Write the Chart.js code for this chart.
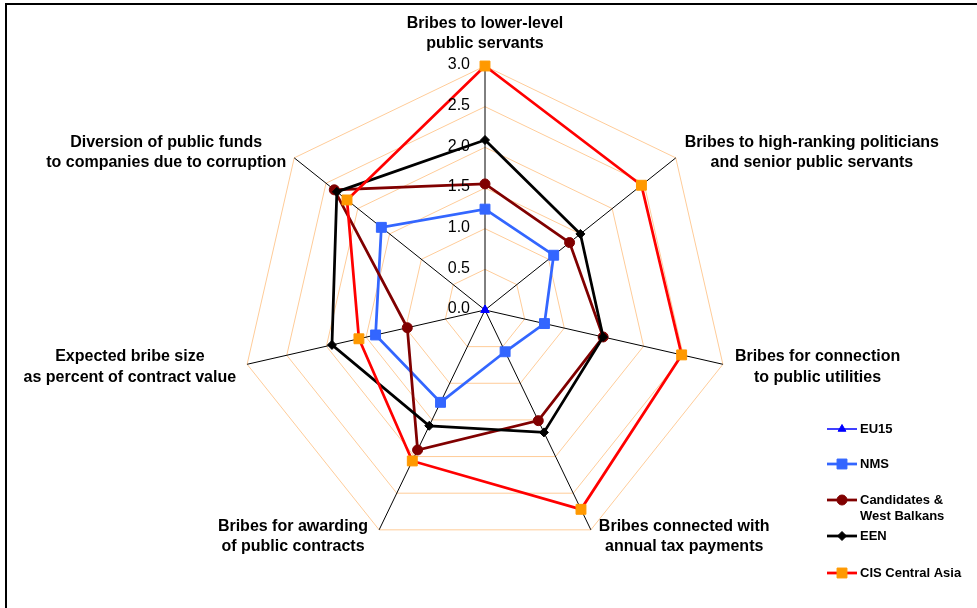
<!DOCTYPE html>
<html>
<head>
<meta charset="utf-8">
<title>Bribery by region</title>
<script src="https://cdn.jsdelivr.net/npm/chart.js@4.4.1/dist/chart.umd.min.js"></script>
<style>
  html, body { margin: 0; padding: 0; background: #fff; overflow: hidden; }
  #wrap { position: relative; width: 977px; height: 608px; }
  #frame { position: absolute; left: 5px; top: 3px; width: 1200px; height: 900px; border: 2px solid #000; pointer-events: none; }
</style>
</head>
<body>
<div id="wrap">
  <canvas id="radarChart"></canvas>
  <div id="frame"></div>
</div>
<script>
// Axis names (two lines each)
var categories = [
    ['Bribes to lower-level', 'public servants'],
    ['Bribes to high-ranking politicians', 'and senior public servants'],
    ['Bribes for connection', 'to public utilities'],
    ['Bribes connected with', 'annual tax payments'],
    ['Bribes for awarding', 'of public contracts'],
    ['Expected bribe size', 'as percent of contract value'],
    ['Diversion of public funds', 'to companies due to corruption']
];

// Series values
var eu15 = [0, 0, 0, 0, 0, 0, 0];
var nms = [1.24, 1.08, 0.75, 0.57, 1.26, 1.38, 1.63];
var candidates = [1.55, 1.33, 1.49, 1.51, 1.91, 0.98, 2.37];
var een = [2.09, 1.50, 1.49, 1.67, 1.58, 1.93, 2.33];
var cisCentralAsia = [3.0, 2.46, 2.48, 2.72, 2.06, 1.59, 2.17];

var tickLabels = ['0.0', '0.5', '1.0', '1.5', '2.0', '2.5', '3.0'];
var seriesNames = [['EU15'], ['NMS'], ['Candidates &', 'West Balkans'], ['EEN'], ['CIS Central Asia']];

// where each axis title sits relative to the outer vertex
var labelPlacement = [
    { align: 'center', dx: 0, dy: -42.5 },
    { align: 'left', dx: 9, dy: -15.5 },
    { align: 'left', dx: 12, dy: -7.5 },
    { align: 'left', dx: 8, dy: -3.5 },
    { align: 'right', dx: -11, dy: -3.5 },
    { align: 'right', dx: -11, dy: -7.5 },
    { align: 'right', dx: -8, dy: -15.5 }
];
var legendRows = [429, 464, 500, 536, 573];

function drawMarker(ctx, ds, x, y) {
    ctx.save();
    ctx.fillStyle = ds.pointBackgroundColor;
    ctx.strokeStyle = ds.pointBorderColor;
    ctx.lineWidth = ds.pointBorderWidth;
    Chart.helpers.drawPoint(ctx, {
        pointStyle: ds.pointStyle,
        rotation: 0,
        radius: ds.pointRadius,
        borderWidth: ds.pointBorderWidth
    }, x, y);
    ctx.restore();
}

var extrasPlugin = {
    id: 'extras',
    afterDatasetsDraw: function (chart) {
        var ctx = chart.ctx;
        var r = chart.scales.r;
        ctx.save();
        // tick labels left of the top axis
        ctx.font = '16px Arial, "Liberation Sans", sans-serif';
        ctx.fillStyle = '#000';
        ctx.textAlign = 'right';
        ctx.textBaseline = 'middle';
        tickLabels.forEach(function (t) {
            var d = r.getDistanceFromCenterForValue(parseFloat(t));
            ctx.fillText(t, r.xCenter - 15, r.yCenter - d - 1);
        });

        // axis titles
        ctx.font = 'bold 16px Arial, "Liberation Sans", sans-serif';
        chart.data.labels.forEach(function (lines, i) {
            var p = r.getPointPosition(i, r.drawingArea);
            var pl = labelPlacement[i];
            var bw = 0;
            lines.forEach(function (l) { bw = Math.max(bw, ctx.measureText(l).width); });
            var cx = p.x + pl.dx;
            if (pl.align === 'left') cx += bw / 2;
            if (pl.align === 'right') cx -= bw / 2;
            ctx.textAlign = 'center';
            lines.forEach(function (l, k) {
                ctx.fillText(l, cx, p.y + pl.dy + k * 20.5);
            });
        });

        // legend
        ctx.font = 'bold 13px Arial, "Liberation Sans", sans-serif';
        ctx.textAlign = 'left';
        chart.data.datasets.forEach(function (ds, i) {
            var y = legendRows[i];
            ctx.strokeStyle = ds.borderColor;
            ctx.lineWidth = ds.borderWidth;
            ctx.beginPath();
            ctx.moveTo(827, y);
            ctx.lineTo(857, y);
            ctx.stroke();
            drawMarker(ctx, ds, 842, y);
            ctx.fillStyle = '#000';
            seriesNames[i].forEach(function (l, k) {
                ctx.fillText(l, 860, y + k * 16);
            });
        });
        ctx.restore();
    }
};

function series(name, values, line, marker, style, radius, width) {
    return {
        label: name,
        data: values,
        borderColor: line,
        backgroundColor: marker,
        borderWidth: width,
        pointStyle: style,
        pointRadius: radius,
        pointHoverRadius: radius,
        pointBackgroundColor: marker,
        pointBorderColor: marker,
        pointBorderWidth: 1,
        fill: false,
        tension: 0,
        clip: false
    };
}

var datasets = [
    series('EU15', eu15, '#0000FF', '#0000FF', 'triangle', 4.5, 1.5),
    series('NMS', nms, '#3366FF', '#3366FF', 'rect', 7, 2.75),
    series('Candidates & West Balkans', candidates, '#800000', '#800000', 'circle', 5, 2.75),
    series('EEN', een, '#000000', '#000000', 'rectRot', 4.5, 2.75),
    series('CIS Central Asia', cisCentralAsia, '#FF0000', '#FF9900', 'rect', 7, 2.75)
];
// later series on top, as in the original
datasets.forEach(function (d, i) { d.order = datasets.length - i; });

var ctxR = document.getElementById('radarChart').getContext('2d');
var myRadarChart = new Chart(ctxR, {
    type: 'radar',
    data: {
        labels: categories,
        datasets: datasets
    },
    options: {
        responsive: true,
        maintainAspectRatio: false,
        animation: false,
        layout: { padding: { left: 241, right: 247, top: 66, bottom: 53 } },
        plugins: {
            legend: { display: false },
            tooltip: { enabled: false }
        },
        scales: {
            r: {
                min: 0,
                max: 3,
                beginAtZero: true,
                ticks: { display: false, stepSize: 0.5 },
                grid: { color: '#FFCC99', lineWidth: 1, circular: false },
                angleLines: { color: '#000000', lineWidth: 1 },
                pointLabels: { display: false }
            }
        }
    },
    plugins: [extrasPlugin]
});
</script>
</body>
</html>
